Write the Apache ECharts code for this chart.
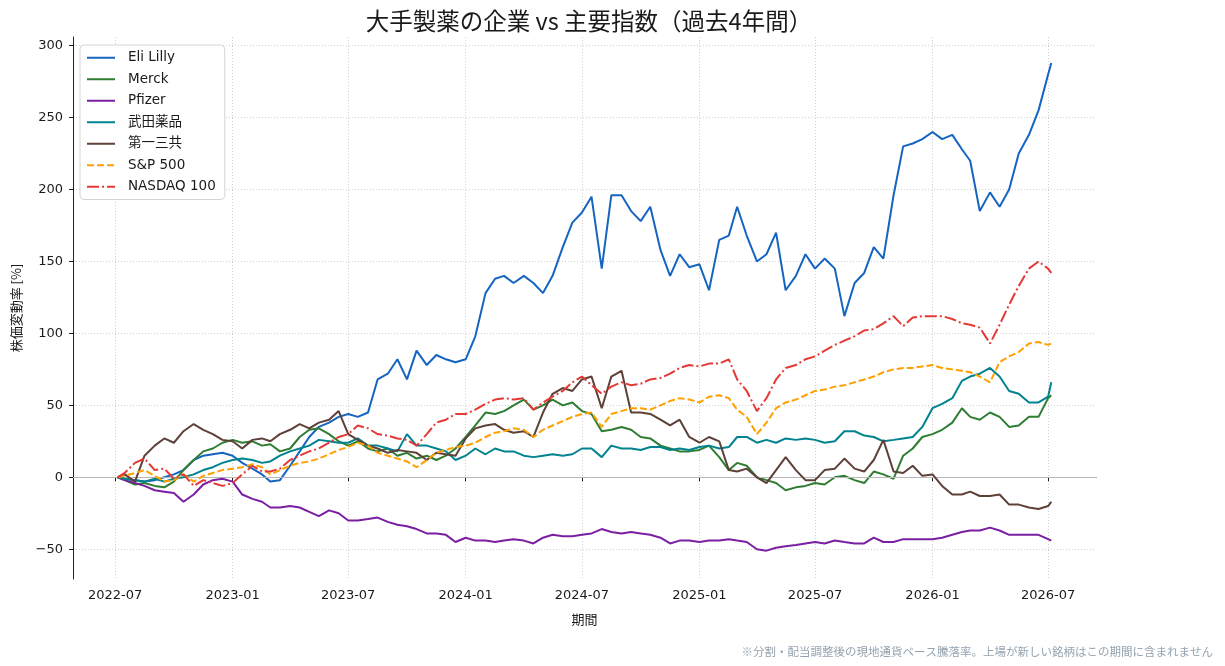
<!DOCTYPE html>
<html lang="ja">
<head>
<meta charset="utf-8">
<title>大手製薬の企業 vs 主要指数</title>
<script src="https://cdn.jsdelivr.net/npm/echarts@6/dist/echarts.min.js"></script>
<style>
  html, body { margin: 0; padding: 0; background: #ffffff; }
  #chart { width: 1225px; height: 666px; }
</style>
</head>
<body>
<div id="chart"></div>
<script>
// semi-monthly samples (change in %, since 2022-07)
const dates = [
  "2022-07-05", "2022-07-16", "2022-08-01", "2022-08-16", "2022-09-01", "2022-09-16",
  "2022-10-01", "2022-10-16", "2022-11-01", "2022-11-16", "2022-12-01", "2022-12-16",
  "2023-01-01", "2023-01-16", "2023-02-01", "2023-02-16", "2023-03-01", "2023-03-16",
  "2023-04-01", "2023-04-16", "2023-05-01", "2023-05-16", "2023-06-01", "2023-06-16",
  "2023-07-01", "2023-07-16", "2023-08-01", "2023-08-16", "2023-09-01", "2023-09-16",
  "2023-10-01", "2023-10-16", "2023-11-01", "2023-11-16", "2023-12-01", "2023-12-16",
  "2024-01-01", "2024-01-16", "2024-02-01", "2024-02-16", "2024-03-01", "2024-03-16",
  "2024-04-01", "2024-04-16", "2024-05-01", "2024-05-16", "2024-06-01", "2024-06-16",
  "2024-07-01", "2024-07-16", "2024-08-01", "2024-08-16", "2024-09-01", "2024-09-16",
  "2024-10-01", "2024-10-16", "2024-11-01", "2024-11-16", "2024-12-01", "2024-12-16",
  "2025-01-01", "2025-01-16", "2025-02-01", "2025-02-16", "2025-03-01", "2025-03-16",
  "2025-04-01", "2025-04-16", "2025-05-01", "2025-05-16", "2025-06-01", "2025-06-16",
  "2025-07-01", "2025-07-16", "2025-08-01", "2025-08-16", "2025-09-01", "2025-09-16",
  "2025-10-01", "2025-10-16", "2025-11-01", "2025-11-16", "2025-12-01", "2025-12-16",
  "2026-01-01", "2026-01-16", "2026-02-01", "2026-02-16", "2026-03-01", "2026-03-16",
  "2026-04-01", "2026-04-16", "2026-05-01", "2026-05-16", "2026-06-01", "2026-06-16",
  "2026-07-01", "2026-07-06"
];

const eliLilly = [
  0, -1, -2, -3, -2, 0, 2, 5, 12, 15, 16, 17,
  15, 10, 6, 2, -3, -2, 8, 18, 28, 35, 38, 42,
  44, 42, 45, 68, 72, 82, 68, 88, 78, 85, 82, 80,
  82, 98, 128, 138, 140, 135, 140, 135, 128, 140, 160, 177,
  184, 195, 145, 196, 196, 185, 178, 188, 158, 140, 155, 146,
  148, 130, 165, 168, 188, 168, 150, 155, 170, 130, 140, 155,
  145, 152, 145, 112, 135, 142, 160, 152, 196, 230, 232, 235,
  240, 235, 238, 228, 220, 185, 198, 188, 200, 225, 238, 255,
  280, 288
];
const merck = [
  0, -2, -5, -4, -6, -7, -3, 5, 12, 18, 20, 24,
  26, 24, 25, 22, 23, 18, 20, 28, 33, 34, 30, 25,
  22, 25, 20, 18, 20, 15, 17, 13, 15, 12, 15, 20,
  28, 36, 45, 44, 46, 50, 54, 47, 50, 54, 50, 52,
  46, 44, 32, 33, 35, 33, 28, 27, 22, 20, 18, 18,
  19, 22, 14, 5, 10, 8, 0, -2, -4, -9, -7, -6,
  -4, -5, 0, 1, -2, -4, 4, 2, -1, 15, 20, 28,
  30, 33, 38, 48, 42, 40, 45, 42, 35, 36, 42, 42,
  55, 57
];
const pfizer = [
  0, -2, -4, -6, -9, -10, -11, -17, -12, -5, -2, -1,
  -3, -12, -15, -17, -21, -21, -20, -21, -24, -27, -23, -25,
  -30, -30, -29, -28, -31, -33, -34, -36, -39, -39, -40, -45,
  -42, -44, -44, -45, -44, -43, -44, -46, -42, -40, -41, -41,
  -40, -39, -36, -38, -39, -38, -39, -40, -42, -46, -44, -44,
  -45, -44, -44, -43, -44, -45, -50, -51, -49, -48, -47, -46,
  -45, -46, -44, -45, -46, -46, -42, -45, -45, -43, -43, -43,
  -43, -42, -40, -38, -37, -37, -35, -37, -40, -40, -40, -40,
  -43, -44
];
const takeda = [
  0, -1, -2, -3, -1, -3, -1, 0, 2, 5, 7, 10,
  12, 13, 12, 10, 11, 15, 18, 20, 22, 26, 25, 24,
  24, 27, 22, 22, 20, 18, 30, 22, 22, 20, 18, 12,
  15, 20, 16, 20, 18, 18, 15, 14, 15, 16, 15, 16,
  20, 20, 14, 22, 20, 20, 19, 21, 21, 19, 20, 19,
  21, 22, 20, 21, 28, 28, 24, 26, 24, 27, 26, 27,
  26, 24, 25, 32, 32, 29, 28, 25, 26, 27, 28, 35,
  48, 51, 55, 67, 70, 72, 76, 70, 60, 58, 52, 52,
  56, 66
];
const daiichi = [
  0, 2, -3, 15, 22, 27, 24, 32, 37, 33, 30, 26,
  25, 20, 26, 27, 25, 30, 33, 37, 34, 38, 40, 46,
  30, 26, 22, 20, 17, 19, 18, 17, 12, 17, 16, 15,
  27, 34, 36, 37, 33, 31, 32, 28, 45, 58, 62, 60,
  68, 70, 48, 70, 74, 45, 45, 44, 40, 36, 40, 28,
  24, 28, 25, 5, 4, 6, 0, -4, 5, 14, 5, -2,
  -2, 5, 6, 13, 6, 4, 12, 26, 4, 3, 8, 1,
  2, -6, -12, -12, -10, -13, -13, -12, -19, -19, -21, -22,
  -20, -17
];
const sp500 = [
  0, 1, 3, 5, 1, -3, -2, 2, -3, 1, 3, 5,
  6, 7, 9, 7, 2, 5, 8, 10, 11, 13, 16, 19,
  21, 24, 22, 17, 15, 13, 11, 7, 12, 17, 19, 21,
  22, 24, 28, 31, 32, 34, 33, 28, 33, 36, 39, 42,
  44, 45, 35, 44, 46, 48, 48, 47, 50, 53, 55, 54,
  52, 56, 57, 55, 47, 42, 30, 38, 48, 52, 54, 57,
  60, 61, 63, 64, 66, 68, 70, 73, 75, 76, 76, 77,
  78, 76, 75, 74, 73, 70, 66, 80, 84, 87, 93, 94,
  92, 93
];
const nasdaq100 = [
  0, 3, 10, 13, 5, 6, -1, 2, -6, -2, -4, -6,
  -4, 2, 8, 4, 4, 6, 12, 15, 18, 20, 24, 28,
  30, 36, 34, 30, 29, 27, 26, 22, 30, 38, 40, 44,
  44, 47, 51, 54, 55, 54, 55, 47, 52, 56, 60, 66,
  70, 64, 58, 63, 66, 64, 65, 68, 69, 72, 76, 78,
  77, 79, 79, 82, 68, 60, 46, 55, 68, 76, 78, 82,
  84, 88, 92, 95, 98, 102, 103, 107, 112, 105, 111, 112,
  112, 112, 110, 107, 106, 104, 93, 106, 120, 133, 145, 150,
  145, 142
];

const seriesNames = ["Eli Lilly", "Merck", "Pfizer", "武田薬品", "第一三共", "S&P 500", "NASDAQ 100"];
const seriesValues = [eliLilly, merck, pfizer, takeda, daiichi, sp500, nasdaq100];
const seriesColors = ["#1565c0", "#2e7d32", "#7b1fa2", "#00838f", "#5d4037", "#ffa000", "#e53935"];
const seriesDash = ["solid", "solid", "solid", "solid", "solid", [7, 3], [12, 3, 2, 3]];

const FONT = "'DejaVu Sans', 'Noto Sans CJK JP', sans-serif";
const CJK = "'Noto Sans CJK JP', sans-serif";
const DAY = 24 * 3600 * 1000;

const chart = echarts.init(document.getElementById("chart"));

const series = seriesNames.map((name, i) => ({
  name: name,
  type: "line",
  showSymbol: false,
  symbol: "none",
  data: dates.map((d, k) => [d, seriesValues[i][k]]),
  lineStyle: { color: seriesColors[i], width: 2, type: seriesDash[i] },
  itemStyle: { color: seriesColors[i] },
  z: 3 + i
}));

// thin zero reference line behind the data
series.push({
  name: "zero",
  type: "line",
  data: [],
  z: 1,
  markLine: {
    silent: true,
    symbol: "none",
    label: { show: false },
    lineStyle: { color: "#b8b8b8", width: 1, type: "solid" },
    data: [{ yAxis: 0 }]
  }
});

const option = {
  animation: false,
  backgroundColor: "#ffffff",
  textStyle: { fontFamily: FONT },
  title: {
    text: "大手製薬の企業 vs 主要指数（過去4年間）",
    left: 584,
    textAlign: "center",
    top: 4,
    textStyle: { fontFamily: CJK, fontSize: 23.5, fontWeight: "normal", color: "#1a1a1a" }
  },
  graphic: [{
    type: "text",
    right: 12,
    bottom: 9,
    style: {
      text: "※分割・配当調整後の現地通貨ベース騰落率。上場が新しい銘柄はこの期間に含まれません",
      font: "11.5px " + CJK,
      fill: "#94a3b0"
    }
  }],
  legend: {
    data: seriesNames,
    orient: "vertical",
    left: 80,
    top: 45,
    itemWidth: 28,
    itemHeight: 12,
    itemGap: 8,
    padding: [6, 9, 6, 6],
    backgroundColor: "#ffffff",
    borderColor: "#d4d4d4",
    borderWidth: 1,
    borderRadius: 4,
    itemStyle: { opacity: 0 },
    textStyle: { fontFamily: FONT, fontSize: 13.5, color: "#1a1a1a", padding: [0, 0, 0, 8] }
  },
  grid: { left: 73, right: 129, top: 37, bottom: 87, containLabel: false },
  xAxis: {
    type: "time",
    min: "2022-04-26",
    max: "2026-09-14",
    minInterval: 180 * DAY,
    maxInterval: 186 * DAY,
    name: "期間",
    nameLocation: "middle",
    nameGap: 34,
    nameTextStyle: { fontFamily: CJK, fontSize: 13, color: "#1a1a1a" },
    axisLine: { show: true, lineStyle: { color: "#222", width: 1 } },
    axisTick: { show: true, length: 4, lineStyle: { color: "#222" } },
    axisLabel: {
      formatter: "{yyyy}-{MM}",
      fontFamily: FONT,
      fontSize: 13,
      color: "#1a1a1a",
      margin: 10,
      showMinLabel: false,
      showMaxLabel: false,
      hideOverlap: false
    },
    splitLine: {
      show: true,
      showMinLine: false,
      showMaxLine: false,
      lineStyle: { color: "#cfcfcf", type: [1, 2], width: 1 }
    }
  },
  yAxis: {
    type: "value",
    min: -70.7,
    max: 306,
    splitNumber: 7,
    name: "株価変動率 [%]",
    nameLocation: "middle",
    nameGap: 50,
    nameRotate: 90,
    nameTextStyle: { fontFamily: CJK, fontSize: 13, color: "#1a1a1a" },
    axisLine: { show: true, lineStyle: { color: "#222", width: 1 } },
    axisTick: { show: true, length: 4, lineStyle: { color: "#222" } },
    axisLabel: {
      fontFamily: FONT,
      fontSize: 13,
      color: "#1a1a1a",
      margin: 10,
      showMinLabel: false,
      showMaxLabel: false,
      formatter: (v) => (v < 0 ? "\u2212" + Math.abs(v) : String(v))
    },
    splitLine: {
      show: true,
      showMinLine: false,
      showMaxLine: false,
      lineStyle: { color: "#cfcfcf", type: [1, 2], width: 1 }
    }
  },
  series: series
};

chart.setOption(option);
window.addEventListener("resize", () => chart.resize());
</script>
</body>
</html>
